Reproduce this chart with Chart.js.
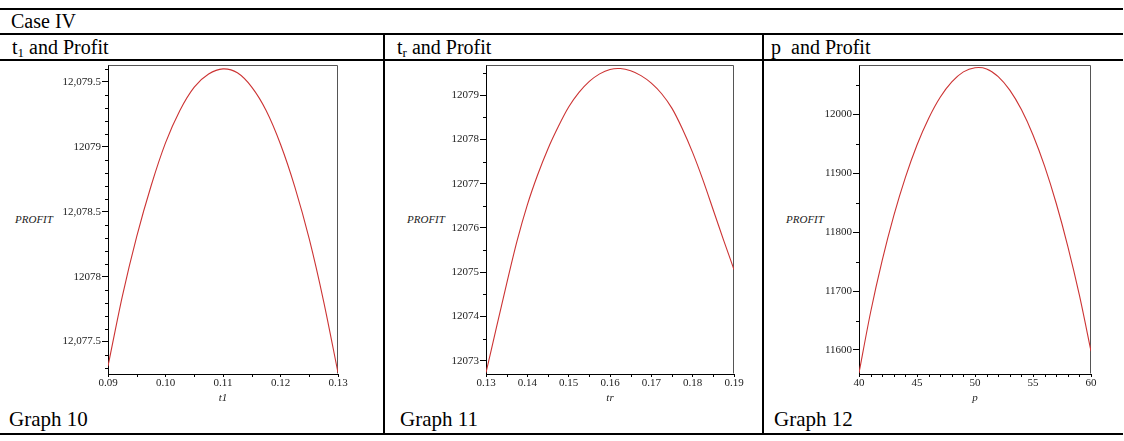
<!DOCTYPE html>
<html>
<head>
<meta charset="utf-8">
<title>Case IV – Profit curves</title>
<script src="https://cdn.jsdelivr.net/npm/chart.js@4/dist/chart.umd.min.js"></script>
<style>
  html, body { margin: 0; padding: 0; background: #fff; }
  #page { position: relative; width: 1124px; height: 441px; overflow: hidden; font-family: 'Liberation Serif', 'Times New Roman', serif; color: #000; }
  .hline { position: absolute; left: 0; width: 1123px; height: 2px; background: #000; }
  .vline { position: absolute; width: 2px; background: #000; }
  .cell-text { position: absolute; font-size: 20px; line-height: 20px; white-space: nowrap; }
  .cell-text sub { font-size: 13px; line-height: 0; vertical-align: -3px; }
  .caption { font-size: 21px; line-height: 21px; }
  .ytitle { position: absolute; font-size: 11px; line-height: 11px; font-style: italic; color: #222; white-space: nowrap; }
  canvas { position: absolute; }
</style>
</head>
<body>
<div id="page">
  <div class="hline" style="top:8px"></div>
  <div class="hline" style="top:33px"></div>
  <div class="hline" style="top:59px"></div>
  <div class="hline" style="top:433px"></div>
  <div class="vline" style="left:383px; top:34px; height:401px"></div>
  <div class="vline" style="left:762px; top:34px; height:401px"></div>

  <div class="cell-text" style="left:11px; top:11px">Case IV</div>
  <div class="cell-text" style="left:12px; top:37px">t<sub>1</sub> and Profit</div>
  <div class="cell-text" style="left:397px; top:37px">t<sub>r</sub> and Profit</div>
  <div class="cell-text" style="left:771px; top:37px">p&nbsp; and Profit</div>
  <div class="cell-text caption" style="left:9px; top:409px">Graph 10</div>
  <div class="cell-text caption" style="left:400px; top:409px">Graph 11</div>
  <div class="cell-text caption" style="left:774px; top:409px">Graph 12</div>

  <div class="ytitle" style="left:15px; top:214px">PROFIT</div>
  <div class="ytitle" style="left:407px; top:214px">PROFIT</div>
  <div class="ytitle" style="left:786px; top:214px">PROFIT</div>

  <canvas id="g10" width="383" height="350" style="left:0px; top:61px"></canvas>
  <canvas id="g11" width="377" height="350" style="left:385px; top:61px"></canvas>
  <canvas id="g12" width="360" height="350" style="left:764px; top:61px"></canvas>
</div>

<script>
// ---- Graph 10: t1 vs profit ----
const t1Values = [0.09, 0.0925, 0.095, 0.0975, 0.10, 0.1025, 0.105, 0.1075, 0.11,
                  0.1125, 0.115, 0.1175, 0.12, 0.1225, 0.125, 0.1275, 0.13];
const t1Profit = [12077.31, 12077.85, 12078.31, 12078.70, 12079.03, 12079.28, 12079.46, 12079.56, 12079.60,
                  12079.57, 12079.46, 12079.28, 12079.02, 12078.69, 12078.29, 12077.81, 12077.26];
const t1XTicks = [0.09, 0.10, 0.11, 0.12, 0.13];
const t1XLabels = ['0.09', '0.10', '0.11', '0.12', '0.13'];
const t1YTicks = [12077.5, 12078, 12078.5, 12079, 12079.5];
const t1YLabels = ['12,077.5', '12078', '12,078.5', '12079', '12,079.5'];

// ---- Graph 11: tr vs profit ----
const trValues = [0.13, 0.1325, 0.135, 0.1375, 0.14, 0.1425, 0.145, 0.1475, 0.15, 0.1525, 0.155, 0.1575, 0.16,
                  0.1625, 0.165, 0.1675, 0.17, 0.1725, 0.175, 0.1775, 0.18, 0.1825, 0.185, 0.1875, 0.19];
const trProfit = [12072.73, 12073.74, 12074.74, 12075.70, 12076.52, 12077.20, 12077.79, 12078.29, 12078.73,
                  12079.06, 12079.31, 12079.48, 12079.58, 12079.60, 12079.55, 12079.44, 12079.27, 12079.03,
                  12078.70, 12078.24, 12077.70, 12077.08, 12076.40, 12075.72, 12075.06];
const trXTicks = [0.13, 0.14, 0.15, 0.16, 0.17, 0.18, 0.19];
const trXLabels = ['0.13', '0.14', '0.15', '0.16', '0.17', '0.18', '0.19'];
const trYTicks = [12073, 12074, 12075, 12076, 12077, 12078, 12079];
const trYLabels = ['12073', '12074', '12075', '12076', '12077', '12078', '12079'];

// ---- Graph 12: p vs profit ----
const pValues = [40, 41, 42, 43, 44, 45, 46, 47, 48, 49, 50, 51, 52, 53, 54, 55, 56, 57, 58, 59, 60];
const pProfit = [11561, 11664, 11752, 11828, 11893, 11948, 11993, 12029, 12055, 12072, 12079,
                 12077, 12064, 12041, 12008, 11965, 11912, 11849, 11776, 11693, 11598];
const pXTicks = [40, 45, 50, 55, 60];
const pXLabels = ['40', '45', '50', '55', '60'];
const pYTicks = [11600, 11700, 11800, 11900, 12000];
const pYLabels = ['11600', '11700', '11800', '11900', '12000'];

// minor tick values between a lower and upper bound at a fixed step
function minorTicks(from, to, step) {
  const out = [];
  const n = Math.round((to - from) / step);
  for (let i = 0; i <= n; i++) out.push(+(from + i * step).toFixed(6));
  return out;
}

const tickFont = { family: "'Liberation Serif', 'Times New Roman', serif", size: 11 };
const inkColor = '#222';

// Grey box around the plot area plus short minor tick marks on both axes
const plotFrame = {
  id: 'plotFrame',
  beforeDatasetsDraw(chart) {
    const { ctx, chartArea: a } = chart;
    ctx.save();
    ctx.strokeStyle = '#555';
    ctx.lineWidth = 1;
    ctx.beginPath();
    ctx.moveTo(Math.round(a.left) + 0.5, Math.round(a.top) + 0.5);
    ctx.lineTo(Math.round(a.right) - 0.5, Math.round(a.top) + 0.5);
    ctx.lineTo(Math.round(a.right) - 0.5, Math.round(a.bottom) - 0.5);
    ctx.stroke();
    ctx.restore();
  },
  afterDraw(chart, args, opts) {
    const { ctx, scales } = chart;
    ctx.save();
    ctx.strokeStyle = '#000';
    ctx.lineWidth = 1;
    ctx.beginPath();
    (opts.x || []).forEach(v => {
      const px = Math.round(scales.x.getPixelForValue(v)) + 0.5;
      const b = Math.round(scales.x.top);
      ctx.moveTo(px, b); ctx.lineTo(px, b + 3);
    });
    (opts.y || []).forEach(v => {
      const py = Math.round(scales.y.getPixelForValue(v)) + 0.5;
      const l = Math.round(scales.y.right);
      ctx.moveTo(l - 3, py); ctx.lineTo(l, py);
    });
    ctx.stroke();
    ctx.restore();
  }
};

function profitChart(id, spec) {
  const points = spec.xs.map((x, i) => ({ x: x, y: spec.ys[i] }));
  return new Chart(document.getElementById(id), {
    type: 'line',
    data: {
      datasets: [{
        data: points,
        borderColor: '#cc3333',
        borderWidth: 1.1,
        pointRadius: 0,
        tension: 0.3,
        fill: false
      }]
    },
    options: {
      responsive: false,
      animation: false,
      events: [],
      layout: { padding: { left: 0, top: 4, right: spec.padRight, bottom: 0 } },
      plugins: {
        legend: { display: false },
        tooltip: { enabled: false },
        plotFrame: { x: spec.xMinor, y: spec.yMinor }
      },
      scales: {
        x: {
          type: 'linear',
          min: spec.xMin,
          max: spec.xMax,
          afterBuildTicks: s => { s.ticks = spec.xTicks.map(v => ({ value: v })); },
          afterFit: s => { s.height = 37; s.paddingLeft = 0; s.paddingRight = 0; },
          ticks: {
            callback: (v, i) => spec.xLabels[i],
            font: tickFont, color: inkColor, padding: 0,
            maxRotation: 0, autoSkip: false
          },
          grid: { drawOnChartArea: false, drawTicks: true, tickLength: 3, tickColor: '#000' },
          border: { display: true, color: '#000', width: 1 },
          title: {
            display: true, text: spec.xTitle, color: inkColor,
            font: { family: tickFont.family, size: 11, style: 'italic' },
            padding: { top: 0, bottom: 6 }
          }
        },
        y: {
          type: 'linear',
          min: spec.yMin,
          max: spec.yMax,
          afterBuildTicks: s => { s.ticks = spec.yTicks.map(v => ({ value: v })); },
          afterFit: s => { s.width = spec.yWidth; s.paddingTop = 0; s.paddingBottom = 0; },
          ticks: {
            callback: (v, i) => spec.yLabels[i],
            font: tickFont, color: inkColor, padding: 1, autoSkip: false
          },
          grid: { drawOnChartArea: false, drawTicks: true, tickLength: 6, tickColor: '#000' },
          border: { display: true, color: '#000', width: 1 }
        }
      }
    },
    plugins: [plotFrame]
  });
}

profitChart('g10', {
  xs: t1Values, ys: t1Profit, xTitle: 't1',
  xMin: 0.09, xMax: 0.13, yMin: 12077.25, yMax: 12079.63,
  xTicks: t1XTicks, xLabels: t1XLabels, yTicks: t1YTicks, yLabels: t1YLabels,
  xMinor: minorTicks(0.095, 0.125, 0.01),
  yMinor: minorTicks(12077.3, 12079.6, 0.1).filter(v => !t1YTicks.includes(v)),
  yWidth: 108, padRight: 45
});

profitChart('g11', {
  xs: trValues, ys: trProfit, xTitle: 'tr',
  xMin: 0.13, xMax: 0.19, yMin: 12072.70, yMax: 12079.68,
  xTicks: trXTicks, xLabels: trXLabels, yTicks: trYTicks, yLabels: trYLabels,
  xMinor: minorTicks(0.135, 0.185, 0.01),
  yMinor: minorTicks(12073.5, 12079.5, 1),
  yWidth: 101, padRight: 28
});

profitChart('g12', {
  xs: pValues, ys: pProfit, xTitle: 'p',
  xMin: 40, xMax: 60, yMin: 11559.2, yMax: 12083.7,
  xTicks: pXTicks, xLabels: pXLabels, yTicks: pYTicks, yLabels: pYLabels,
  xMinor: minorTicks(41, 59, 1).filter(v => !pXTicks.includes(v)),
  yMinor: minorTicks(11650, 12050, 100),
  yWidth: 95, padRight: 33
});
</script>
</body>
</html>
